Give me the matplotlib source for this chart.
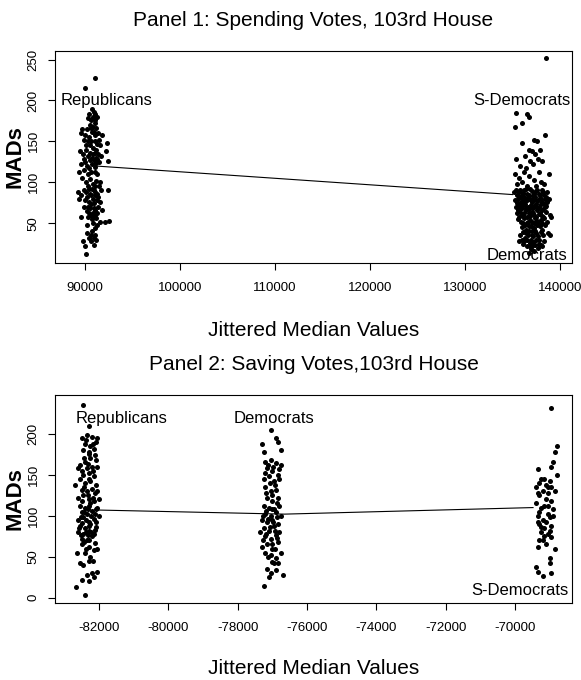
import matplotlib
matplotlib.use('Agg')
import matplotlib.pyplot as plt
import numpy as np

plt.rcParams['font.family'] = ['Liberation Sans', 'DejaVu Sans']

# ---- Panel 1: Spending votes (jittered median, MAD) ----
rep1 = [(90000, 215), (91000, 228),
        (90300, 178), (90600, 176), (90900, 186), (91100, 184), (90700, 190), (91300, 180),
        (90500, 170), (91000, 172), (90200, 165), (89700, 165), (90800, 168), (91200, 166),
        (89600, 160), (90000, 158), (90400, 155), (90700, 162), (91100, 158), (91400, 160),
        (91800, 158), (90300, 150), (91500, 152), (89900, 152), (91000, 150), (91600, 145),
        (92300, 148), (89500, 138), (89800, 135), (90100, 140), (90500, 145), (90800, 142),
        (91200, 140), (91400, 135), (90300, 132), (90700, 130), (91000, 136), (91700, 132),
        (92200, 138), (89900, 128), (91300, 128), (89600, 122), (90000, 125), (90400, 118),
        (90700, 122), (90900, 127), (91100, 119), (91500, 125), (92400, 126), (89400, 112),
        (89900, 115), (90300, 110), (90600, 112), (91000, 113), (91300, 110), (89700, 105),
        (90100, 100), (90500, 104), (90800, 98), (91200, 102), (91600, 100), (90300, 96),
        (91000, 95), (91500, 95), (89300, 88), (89600, 85), (89900, 90), (90200, 82),
        (90500, 86), (90800, 80), (91100, 88), (91400, 82), (91700, 90), (92400, 90),
        (90000, 78), (90400, 76), (90700, 92), (91000, 84), (91300, 78), (89400, 80),
        (90900, 75), (91600, 76), (89900, 70), (90200, 65), (90500, 68), (90800, 62),
        (91100, 66), (91400, 70), (89600, 58), (90300, 58), (90600, 60), (91000, 60),
        (91200, 56), (91800, 66), (92100, 52), (92500, 53), (90700, 55), (90800, 50),
        (91300, 48), (91600, 52), (90200, 38), (90600, 35), (90900, 32), (91100, 36),
        (89800, 28), (90000, 22), (90600, 28), (90900, 24), (90100, 13),
        (90400, 183), (90800, 180), (91100, 176), (90600, 166), (90950, 162), (90150, 145),
        (90650, 150), (91250, 147), (90500, 136), (90850, 134), (91150, 130), (90200, 120),
        (90550, 127), (91200, 124), (90450, 92), (90650, 84), (90950, 90), (91250, 86),
        (90150, 88), (90350, 70), (90650, 74), (90950, 68), (91250, 62), (90450, 63),
        (90850, 57), (90250, 48), (91050, 44), (90750, 40), (90450, 32), (91200, 29)]

dem1 = [(138500, 252), (135400, 185), (136500, 184), (136700, 180), (136000, 173),
        (135300, 167), (138400, 158), (136000, 148), (137300, 152), (137600, 151),
        (136700, 140), (137000, 138), (137900, 140), (135400, 128), (136300, 132),
        (137400, 135), (136800, 126), (137700, 128), (138800, 110), (135800, 120),
        (136400, 118), (138100, 126), (137200, 122), (135300, 110), (135700, 105),
        (136200, 112), (136700, 108), (137300, 103), (137800, 112), (138000, 100),
        (135500, 98), (136000, 100), (136500, 96), (137500, 96), (138300, 98),
        (135200, 88), (135500, 85), (135800, 90), (136100, 87), (136400, 92), (136700, 84),
        (137000, 89), (137300, 86), (137600, 90), (137900, 84), (138200, 88), (138500, 82),
        (138800, 80), (135300, 78), (135600, 80), (135900, 76), (136200, 82), (136500, 78),
        (136800, 80), (137100, 76), (137400, 82), (137700, 78), (138000, 80), (138300, 74),
        (138600, 76), (135400, 70), (135700, 72), (136000, 68), (136300, 74), (136600, 70),
        (136900, 72), (137200, 68), (137500, 74), (137800, 70), (138100, 66), (138400, 70),
        (138900, 60), (135500, 62), (135800, 64), (136100, 60), (136400, 66), (136700, 62),
        (137000, 64), (137300, 60), (137600, 66), (137900, 62), (138200, 58), (138500, 64),
        (135600, 55), (135900, 52), (136200, 56), (136500, 50), (136800, 54), (137100, 52),
        (137400, 56), (137700, 50), (138000, 54), (138400, 48), (139000, 58), (136000, 45),
        (136400, 42), (136700, 46), (137000, 40), (137300, 44), (137600, 48), (138100, 42),
        (138700, 38), (138900, 35), (135800, 35), (136300, 32), (136600, 36), (136900, 30),
        (137200, 34), (137500, 38), (137800, 30), (138300, 28), (135700, 28), (136100, 25),
        (136500, 22), (136800, 26), (137100, 22), (137400, 24), (137700, 20), (136900, 18),
        (138000, 24),
        (135350, 91), (135650, 88), (135950, 84), (136250, 90), (136550, 86), (136850, 92),
        (137150, 83), (137450, 89), (137750, 86), (138050, 91), (138350, 85), (138650, 88),
        (135450, 75), (135750, 82), (136050, 79), (136350, 77), (136650, 81), (136950, 78),
        (137250, 80), (137550, 77), (137850, 81), (138150, 76), (138450, 79), (135550, 66),
        (135850, 69), (136150, 72), (136450, 69), (136750, 67), (137050, 70), (137350, 71),
        (137650, 68), (137950, 73), (138250, 67), (138550, 71), (135650, 58), (135950, 60),
        (136250, 63), (136550, 58), (136850, 59), (137150, 62), (137450, 58), (137750, 61),
        (138050, 59), (138350, 56), (138650, 52), (136050, 50), (136350, 48), (136650, 51),
        (136950, 47), (137250, 50), (137550, 53), (137850, 46), (138150, 50), (136150, 39),
        (136450, 38), (136750, 41), (137050, 36), (137350, 40), (137650, 34), (137950, 39),
        (138250, 36), (135950, 29), (136250, 28), (136550, 30), (136850, 22), (137150, 27),
        (137450, 30), (137750, 25), (138150, 22), (137300, 16), (136700, 14)]

line1_x = [91000, 135000]
line1_y = [120, 85]

labels1 = [("Republicans", 92300, 200), ("S-Democrats", 136000, 200), ("Democrats", 136500, 10)]

# ---- Panel 2: Saving votes ----
rep2 = [(-82450, 235), (-82300, 210), (-82500, 195), (-82350, 198), (-82200, 196),
        (-82050, 195), (-82400, 188), (-82250, 185), (-82100, 190), (-82450, 180),
        (-82300, 178), (-82150, 182), (-82550, 162), (-82400, 165), (-82250, 170),
        (-82100, 168), (-82600, 158), (-82350, 158), (-82200, 160), (-82050, 160),
        (-82450, 150), (-82300, 152), (-82150, 148), (-82700, 137), (-82550, 145),
        (-82400, 140), (-82250, 143), (-82100, 138), (-82500, 132), (-82350, 130),
        (-82200, 133), (-82050, 130), (-82600, 122), (-82450, 125), (-82300, 120),
        (-82150, 118), (-82000, 120), (-82550, 112), (-82400, 110), (-82250, 115),
        (-82100, 108), (-82500, 104), (-82350, 102), (-82200, 106), (-82050, 110),
        (-82600, 95), (-82450, 98), (-82300, 92), (-82150, 96), (-82000, 100),
        (-82550, 88), (-82400, 85), (-82250, 90), (-82100, 86), (-82600, 80),
        (-82450, 78), (-82300, 82), (-82150, 78), (-82500, 72), (-82350, 70),
        (-82200, 75), (-82500, 65), (-82300, 62), (-82150, 58), (-82400, 55),
        (-82050, 60), (-82250, 50), (-82550, 42), (-82450, 40), (-82300, 45),
        (-82050, 32), (-82200, 30), (-82350, 28), (-82150, 25), (-82300, 20),
        (-82500, 22), (-82650, 13), (-82400, 3),
        (-82380, 192), (-82180, 188), (-82280, 175), (-82430, 170), (-82130, 174),
        (-82330, 163), (-82480, 155), (-82180, 154), (-82280, 145), (-82430, 135),
        (-82130, 128), (-82330, 125), (-82480, 118), (-82180, 122), (-82280, 112),
        (-82430, 105), (-82130, 102), (-82330, 108), (-82530, 98), (-82230, 100),
        (-82380, 95), (-82080, 92), (-82480, 91), (-82280, 87), (-82130, 83),
        (-82580, 85), (-82380, 80), (-82230, 80), (-82530, 76), (-82330, 76),
        (-82430, 68), (-82280, 70), (-82130, 67), (-82380, 60), (-82630, 55), (-82180, 45)]

dem2 = [(-77050, 205), (-76900, 195), (-77300, 188), (-76850, 190), (-76750, 180),
        (-77250, 178), (-77200, 165), (-77050, 168), (-76900, 164), (-76750, 162),
        (-77150, 158), (-77000, 155), (-76850, 150), (-77250, 145), (-77100, 148),
        (-76950, 142), (-76800, 145), (-77200, 135), (-77050, 130), (-76900, 132),
        (-77150, 122), (-77000, 118), (-76850, 122), (-77250, 112), (-77100, 110),
        (-76950, 108), (-76800, 112), (-77200, 102), (-77050, 100), (-76900, 104),
        (-76750, 100), (-77300, 95), (-77150, 92), (-77000, 95), (-76850, 90),
        (-77250, 85), (-77100, 82), (-76950, 88), (-76800, 80), (-77200, 75),
        (-77050, 72), (-76900, 76), (-77350, 80), (-77300, 62), (-77150, 65),
        (-77000, 60), (-76850, 68), (-77200, 55), (-77050, 52), (-76900, 48),
        (-76750, 55), (-76950, 42), (-76850, 42), (-77150, 35), (-77050, 30),
        (-77100, 25), (-76700, 28), (-77250, 14),
        (-77120, 162), (-76970, 160), (-76820, 157), (-77220, 152), (-77070, 140),
        (-76920, 137), (-77170, 128), (-77020, 125), (-76870, 115), (-77170, 106),
        (-77020, 108), (-76870, 98), (-77270, 100), (-77120, 96), (-76970, 92),
        (-77070, 86), (-76920, 82), (-77170, 78), (-76870, 73), (-77020, 66),
        (-77270, 70), (-76920, 60), (-77120, 50), (-77020, 44), (-76900, 34)]

sdem2 = [(-68950, 232), (-68800, 185), (-68850, 178), (-68900, 165), (-68950, 160),
         (-69350, 157), (-68800, 150), (-69150, 145), (-69300, 140), (-69000, 142),
         (-69400, 135), (-69200, 130), (-69050, 128), (-68850, 130), (-69300, 125),
         (-69100, 120), (-68950, 118), (-69400, 115), (-69250, 110), (-69050, 112),
         (-68900, 108), (-69350, 100), (-69200, 95), (-69000, 98), (-69300, 90),
         (-69150, 85), (-68950, 88), (-69250, 80), (-69050, 78), (-68950, 74),
         (-69200, 70), (-69350, 62), (-69100, 65), (-68850, 60), (-69000, 48),
         (-69400, 38), (-69350, 32), (-68950, 30), (-69200, 27), (-69000, 42),
         (-69250, 145), (-69100, 138), (-68950, 135), (-69350, 128), (-69150, 112),
         (-69300, 105), (-69050, 102), (-69350, 92), (-69100, 92), (-69250, 86),
         (-69000, 82), (-69150, 75), (-69300, 70), (-68900, 100), (-69050, 135)]

line2_x = [-82050, -76650, -69480]
line2_y = [107, 102, 110]

labels2 = [("Republicans", -81340, 219), ("Democrats", -76940, 219), ("S-Democrats", -69860, 9)]

fig = plt.figure(figsize=(5.81, 6.80), dpi=100)
L, R = 55 / 581, 572 / 581


def panel(top_px, bot_px, groups, lx, ly, labels, xlim, ylim, xticks, yticks, title, title_y, xlab_y):
    ax = fig.add_axes([L, 1 - bot_px / 680, R - L, (bot_px - top_px) / 680])
    for g in groups:
        pts = np.array(g)
        ax.scatter(pts[:, 0], pts[:, 1], s=13, c='black', linewidths=0)
    ax.plot(lx, ly, color='black', lw=0.8)
    for txt, x, y in labels:
        ax.text(x, y, txt, ha='center', va='center', fontsize=12)
    ax.set_xlim(*xlim)
    ax.set_ylim(*ylim)
    ax.set_xticks(xticks)
    ax.set_yticks(yticks)
    ax.set_xticklabels([str(v) for v in xticks], fontsize=9.5)
    ax.set_yticklabels([str(v) for v in yticks], fontsize=9.5, rotation=90, va='center')
    ax.tick_params(direction='out', length=5, width=0.8)
    ax.tick_params(axis='x', pad=9)
    ax.tick_params(axis='y', pad=6)
    for sp in ax.spines.values():
        sp.set_linewidth(0.8)
    ax.set_ylabel('MADs', fontsize=16, fontweight='bold')
    ax.yaxis.label.set_verticalalignment('center')
    ax.yaxis.set_label_coords(-40 / 517, 0.5)
    cx = (L + R) / 2
    fig.text(cx, 1 - title_y / 680, title, ha='center', va='center', fontsize=15)
    fig.text(cx, 1 - xlab_y / 680, 'Jittered Median Values', ha='center', va='center', fontsize=15)
    return ax


panel(51, 263, [rep1, dem1], line1_x, line1_y, labels1,
      (86840, 141260), (1.4, 260.4), list(range(90000, 140001, 10000)), [50, 100, 150, 200, 250],
      'Panel 1: Spending Votes, 103rd House', 20, 330)
panel(395, 603, [rep2, dem2, sdem2], line2_x, line2_y, labels2,
      (-83270, -68356), (-6.4, 247.3), list(range(-82000, -69999, 2000)), [0, 50, 100, 150, 200],
      'Panel 2: Saving Votes,103rd House', 364, 668)

fig.savefig('out.png', dpi=100)
